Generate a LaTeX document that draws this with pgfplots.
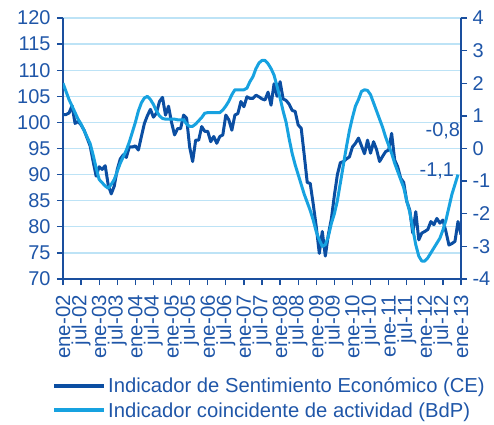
\documentclass[border=0pt]{standalone}
\usepackage{pgfplots}
\pgfplotsset{compat=1.18}
\usepackage{fontspec}
\setmainfont{Liberation Sans}
\definecolor{ce}{HTML}{0B4EA2}
\definecolor{bdp}{HTML}{17A2E0}
\definecolor{txt}{HTML}{1F56A8}
\definecolor{gridc}{HTML}{BDE3F6}
\definecolor{axc}{HTML}{1A4F9E}
\newcommand{\bigf}{\fontsize{20}{22}\selectfont}

\begin{document}
\begin{tikzpicture}
\useasboundingbox (-63bp,-146bp) rectangle (431bp,279bp);
\begin{axis}[
  at={(0,0)}, anchor=south west,
  scale only axis, width=398bp, height=261bp,
  xmin=0, xmax=132, ymin=70, ymax=120,
  axis x line*=bottom, axis y line*=left,
  axis line style={axc, line width=1.5bp},
  xtick={0,6,...,132},
  xticklabels={ene-02,jul-02,ene-03,jul-03,ene-04,jul-04,ene-05,jul-05,ene-06,jul-06,ene-07,jul-07,ene-08,jul-08,ene-09,jul-09,ene-10,jul-10,ene-11,jul-11,ene-12,jul-12,ene-13},
  xticklabel style={rotate=90, anchor=east, font=\fontsize{20.5}{22}\selectfont, text=txt, inner sep=0pt, xshift=-10bp},
  ytick={70,75,...,120},
  yticklabel style={font=\bigf, text=txt, xshift=-3bp},
  /pgf/number format/assume math mode=true,
  ymajorgrids, grid style={gridc, line width=1.3bp},
  tick style={axc, line width=1.3bp},
  major tick length=6bp,
  tick align=outside,
]
\addplot[ce, line width=3bp, line join=round] table {
0 101.5
1 101.5
2 101.8
3 103.2
4 99.8
5 100.2
6 99.5
7 98.5
8 97
9 95.5
10 92.5
11 89.7
12 91.5
13 91
14 91.7
15 88
16 86.3
17 87.8
18 91
19 93
20 93.8
21 93.3
22 95.3
23 95.3
24 95.5
25 94.7
26 97.3
27 99.8
28 101.3
29 102.5
30 101
31 101.8
32 104
33 104.8
34 101.4
35 103.1
36 100
37 97.6
38 98.8
39 98.8
40 101.4
41 100.8
42 95.3
43 92.5
44 96.6
45 96.6
46 99.2
47 98.3
48 98.3
49 96.3
50 97.3
51 96
52 97.3
53 97.6
54 101.4
55 100.5
56 98.5
57 101.4
58 101.7
59 104
60 103
61 104.9
62 104.6
63 104.6
64 105.2
65 104.9
66 104.5
67 104.3
68 105.8
69 103.3
70 107.4
71 105
72 107.8
73 104.5
74 104.2
75 103.5
76 102.3
77 102.1
78 99.5
79 98.9
80 93.8
81 88.5
82 88.3
83 84.3
84 80
85 74.9
86 79.1
87 74.4
88 78.5
89 81.5
90 86
91 90
92 92.3
93 92.5
94 93
95 93.4
96 95.3
97 96
98 97
99 95.5
100 94
101 96.6
102 94.1
103 96.3
104 94.8
105 92.5
106 93.5
107 94.4
108 94.7
109 97.9
110 92.8
111 91.5
112 89.3
113 88.5
114 84.9
115 83.2
116 78.8
117 82.9
118 77.5
119 78.8
120 79.1
121 79.5
122 81
123 80.4
124 81.6
125 80.7
126 81.3
127 79.1
128 76.5
129 76.8
130 77.2
131 81
132 78.5
};
\node[text=txt, font=\bigf] at (axis cs:126,98.4) {-0,8};
\node[text=txt, font=\bigf] at (axis cs:124,90.7) {-1,1};
\end{axis}
\begin{axis}[
  at={(0,0)}, anchor=south west,
  scale only axis, width=398bp, height=261bp,
  xmin=0, xmax=132, ymin=-4, ymax=4,
  axis y line*=right, axis x line=none,
  axis line style={axc, line width=1.5bp},
  ytick={-4,-3,...,4},
  yticklabel style={font=\bigf, text=txt, xshift=2bp},
  /pgf/number format/assume math mode=true,
  tick style={axc, line width=1.3bp},
  major tick length=6bp,
  tick align=outside,
  legend style={at={(-0.0276,-0.371)}, anchor=north west, draw=none, fill=none,
    font=\fontsize{20.3}{22}\selectfont, text=txt, inner sep=0pt, row sep=4bp},
  legend cell align=left,
  legend image code/.code={\draw[#1, line width=4bp] (0bp,0bp) -- (50bp,0bp);},
]
\addlegendimage{ce}
\addlegendentry{Indicador de Sentimiento Económico (CE)}
\addplot[bdp, line width=3bp, line join=round] table {
0 2.0
1 1.75
2 1.5
3 1.3
4 1.1
5 0.9
6 0.75
7 0.55
8 0.35
9 0.15
10 -0.2
11 -0.6
12 -0.95
13 -1.05
14 -1.15
15 -1.22
16 -1.1
17 -0.95
18 -0.7
19 -0.45
20 -0.25
21 -0.05
22 0.2
23 0.5
24 0.8
25 1.15
26 1.4
27 1.55
28 1.6
29 1.5
30 1.35
31 1.15
32 1.0
33 0.92
34 0.9
35 0.9
36 0.9
37 0.9
38 0.88
39 0.88
40 0.88
41 0.75
42 0.68
43 0.68
44 0.75
45 0.85
46 0.95
47 1.08
48 1.1
49 1.1
50 1.1
51 1.1
52 1.1
53 1.18
54 1.3
55 1.45
56 1.65
57 1.8
58 1.8
59 1.8
60 1.8
61 1.85
62 2.05
63 2.2
64 2.45
65 2.62
66 2.7
67 2.7
68 2.6
69 2.45
70 2.25
71 1.9
72 1.55
73 1.15
74 0.8
75 0.3
76 -0.15
77 -0.5
78 -0.8
79 -1.1
80 -1.4
81 -1.65
82 -1.9
83 -2.2
84 -2.55
85 -2.8
86 -3.0
87 -2.95
88 -2.7
89 -2.3
90 -2.0
91 -1.6
92 -1.05
93 -0.5
94 0.05
95 0.55
96 0.95
97 1.3
98 1.5
99 1.75
100 1.8
101 1.78
102 1.65
103 1.4
104 1.15
105 0.9
106 0.65
107 0.35
108 0.1
109 -0.15
110 -0.45
111 -0.7
112 -0.95
113 -1.2
114 -1.6
115 -1.95
116 -2.45
117 -2.95
118 -3.3
119 -3.45
120 -3.45
121 -3.35
122 -3.2
123 -3.05
124 -2.9
125 -2.75
126 -2.5
127 -2.2
128 -1.8
129 -1.4
130 -1.1
131 -0.8
};
\addlegendentry{Indicador coincidente de actividad (BdP)}
\end{axis}
\end{tikzpicture}
\end{document}
